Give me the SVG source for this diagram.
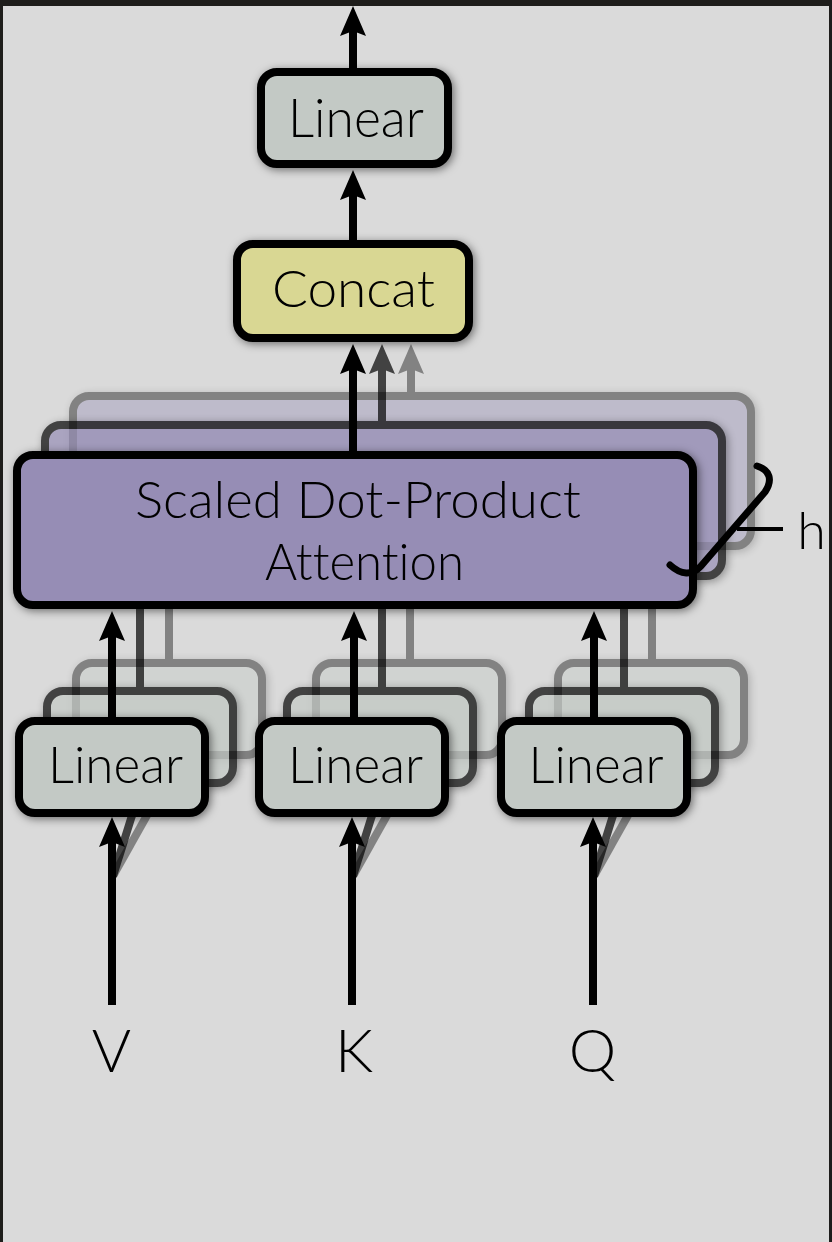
<svg xmlns="http://www.w3.org/2000/svg" width="832" height="1242" viewBox="0 0 832 1242">
<style>
.bx{stroke:#000;stroke-width:8}
.lin{fill:#c3c9c5}
.att{fill:#968db5}
.cat{fill:#d9d793}
.ln{stroke:#000;stroke-width:8;fill:none}
.t{font-family:Lato,"Liberation Sans",Arial,sans-serif;font-weight:300;fill:#000;text-anchor:middle;font-variant-ligatures:none;font-feature-settings:"liga" 0,"dlig" 0}
</style>
<defs>
<marker id="ah" viewBox="0 0 30 26" refX="10" refY="13" markerWidth="30" markerHeight="26" markerUnits="userSpaceOnUse" orient="auto">
<path d="M30 13 L0 0 L5 13 L0 26 Z" fill="#000"/>
</marker>
<filter id="sh" x="-10%" y="-15%" width="125%" height="135%">
<feDropShadow dx="2" dy="2" stdDeviation="4" flood-color="#000" flood-opacity="0.5"/>
</filter>
</defs>
<rect x="0" y="0" width="832" height="1242" fill="#dadada"/>
<rect x="0" y="0" width="832" height="6" fill="#1e1d1b"/>
<rect x="0" y="0" width="3" height="1242" fill="#1e1d1b"/>
<rect x="829" y="0" width="3" height="1242" fill="#1e1d1b"/>

<g id="layer-back" opacity="0.4">
<g id="connectors-back">
<line class="ln" x1="411" y1="396" x2="411" y2="364" marker-end="url(#ah)"/>
<line class="ln" x1="169" y1="663" x2="169" y2="560"/>
<line class="ln" x1="410" y1="663" x2="410" y2="560"/>
<line class="ln" x1="652" y1="663" x2="652" y2="560"/>
<line class="ln" x1="113" y1="876" x2="178" y2="760"/>
<line class="ln" x1="353" y1="876" x2="418" y2="760"/>
<line class="ln" x1="594" y1="876" x2="659" y2="760"/>
</g>
<g id="attention-3" filter="url(#sh)"><rect class="bx att" x="73" y="396" width="678" height="150" rx="16"/></g>
<g id="linear-v-3" filter="url(#sh)"><rect class="bx lin" x="76" y="663" width="186" height="92" rx="16"/></g>
<g id="linear-k-3" filter="url(#sh)"><rect class="bx lin" x="316" y="663" width="186" height="92" rx="16"/></g>
<g id="linear-q-3" filter="url(#sh)"><rect class="bx lin" x="558" y="663" width="186" height="92" rx="16"/></g>
</g>

<g id="layer-middle" opacity="0.7">
<g id="attention-2" filter="url(#sh)"><rect class="bx att" x="45" y="425" width="677" height="151" rx="16"/></g>
<g id="linear-v-2" filter="url(#sh)"><rect class="bx lin" x="47" y="691" width="186" height="92" rx="16"/></g>
<g id="linear-k-2" filter="url(#sh)"><rect class="bx lin" x="287" y="691" width="186" height="92" rx="16"/></g>
<g id="linear-q-2" filter="url(#sh)"><rect class="bx lin" x="529" y="691" width="186" height="92" rx="16"/></g>
<g id="connectors-middle">
<line class="ln" x1="382" y1="425" x2="382" y2="364" marker-end="url(#ah)"/>
<line class="ln" x1="140" y1="691" x2="140" y2="585"/>
<line class="ln" x1="382" y1="691" x2="382" y2="585"/>
<line class="ln" x1="624" y1="691" x2="624" y2="585"/>
<line class="ln" x1="113" y1="876" x2="140" y2="790"/>
<line class="ln" x1="353" y1="876" x2="380" y2="790"/>
<line class="ln" x1="594" y1="876" x2="621" y2="790"/>
</g>
</g>

<g id="connectors">
<line class="ln" x1="353" y1="72" x2="353" y2="26" marker-end="url(#ah)"/>
<line class="ln" x1="353" y1="244" x2="353" y2="190" marker-end="url(#ah)"/>
<line class="ln" x1="353" y1="455" x2="353" y2="364" marker-end="url(#ah)"/>
<line class="ln" x1="112" y1="721" x2="112" y2="631" marker-end="url(#ah)"/>
<line class="ln" x1="354" y1="721" x2="354" y2="631" marker-end="url(#ah)"/>
<line class="ln" x1="594" y1="721" x2="594" y2="631" marker-end="url(#ah)"/>
<line class="ln" x1="112" y1="1005" x2="112" y2="837" marker-end="url(#ah)"/>
<line class="ln" x1="352" y1="1005" x2="352" y2="837" marker-end="url(#ah)"/>
<line class="ln" x1="593" y1="1005" x2="593" y2="837" marker-end="url(#ah)"/>
</g>

<g id="linear-out" filter="url(#sh)">
<rect class="bx lin" x="261" y="72" width="187" height="92" rx="16"/>
<text class="t" x="356" y="137" font-size="53" textLength="136" lengthAdjust="spacingAndGlyphs">Linear</text>
</g>
<g id="concat" filter="url(#sh)">
<rect class="bx cat" x="237" y="244" width="232" height="94" rx="16"/>
<text class="t" x="353.5" y="307" font-size="52" textLength="163" lengthAdjust="spacingAndGlyphs">Concat</text>
</g>
<g id="attention" filter="url(#sh)">
<rect class="bx att" x="17" y="455" width="676" height="150" rx="16"/>
<text class="t" x="358" y="518" font-size="52" textLength="446" lengthAdjust="spacingAndGlyphs">Scaled Dot-Product</text>
<text class="t" x="364.5" y="580" font-size="52" textLength="199" lengthAdjust="spacingAndGlyphs">Attention</text>
</g>
<g id="linear-v" filter="url(#sh)">
<rect class="bx lin" x="19" y="721" width="186" height="92" rx="16"/>
<text class="t" x="115.5" y="783" font-size="52" textLength="135" lengthAdjust="spacingAndGlyphs">Linear</text>
</g>
<g id="linear-k" filter="url(#sh)">
<rect class="bx lin" x="259" y="721" width="186" height="92" rx="16"/>
<text class="t" x="355.5" y="783" font-size="52" textLength="135" lengthAdjust="spacingAndGlyphs">Linear</text>
</g>
<g id="linear-q" filter="url(#sh)">
<rect class="bx lin" x="501" y="721" width="186" height="92" rx="16"/>
<text class="t" x="596" y="783" font-size="52" textLength="135" lengthAdjust="spacingAndGlyphs">Linear</text>
</g>

<g id="heads-brace">
<path d="M757 466 C770 470 773 480 765 492 L701 566 C692 576 681 575 670 565" fill="none" stroke="#000" stroke-width="7" stroke-linecap="round"/>
<line x1="737" y1="529" x2="783" y2="529" stroke="#000" stroke-width="4"/>
<text class="t" x="811.5" y="549" font-size="52">h</text>
</g>

<g id="inputs">
<text class="t" x="111.5" y="1072" font-size="60">V</text>
<text class="t" x="354" y="1072" font-size="60">K</text>
<text class="t" x="592.5" y="1072" font-size="60">Q</text>
</g>
</svg>
